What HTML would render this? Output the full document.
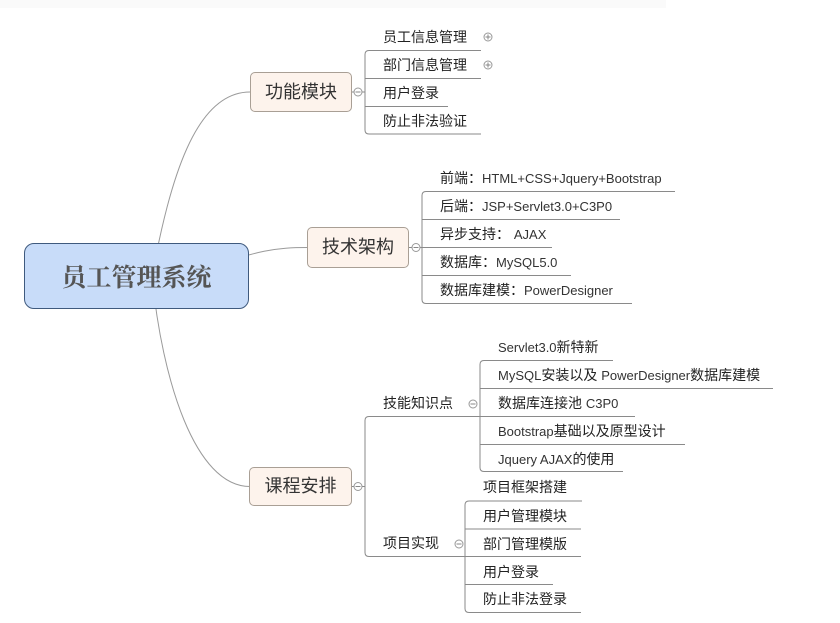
<!DOCTYPE html>
<html>
<head>
<meta charset="utf-8">
<style>
html,body{margin:0;padding:0;background:#fff;}
body{width:840px;height:623px;position:relative;overflow:hidden;font-family:"Liberation Sans","Noto Sans CJK SC",sans-serif;}
.t{position:absolute;white-space:nowrap;font-size:14px;line-height:16px;height:16px;color:#222;font-family:"Liberation Sans","Noto Sans CJK SC",sans-serif;}
.t span{font-size:13px;color:#333;}
.box{position:absolute;box-sizing:border-box;background:#fdf3ec;border:1px solid #a99f95;border-radius:5px;font-size:18px;color:#333;text-align:center;font-family:"Liberation Sans","Noto Sans CJK SC",sans-serif;}
.root{position:absolute;box-sizing:border-box;left:24px;top:243px;width:225px;height:66px;background:#c8dcf9;border:1px solid #3f5a7e;border-radius:10px;text-align:center;line-height:64px;font-size:25px;font-weight:bold;color:#555;font-family:"Noto Serif CJK SC","Liberation Serif",serif;}
svg{position:absolute;left:0;top:0;}
</style>
</head>
<body>
<div style="position:absolute;left:0;top:0;width:666px;height:8px;background:#fafafa;"></div>
<svg width="840" height="623" viewBox="0 0 840 623">
<g fill="none" stroke="#9a9a9a" stroke-width="1">
<!-- curves from root -->
<path d="M152 276 C170 180,195 92,250 92"/>
<path d="M152 276 C162 380,195 486.5,250 486.5"/>
<path d="M200 270 C260 250,275 247.5,308 247.5"/>
</g>
<g fill="none" stroke="#8a8a8a" stroke-width="1">
<!-- 功能模块 -->
<path d="M352 92 H365"/>
<path d="M481 50.5 H369 Q365 50.5 365 54.5 V130 Q365 134 369 134 H481"/>
<path d="M365 78.5 H481"/>
<path d="M365 106.5 H448"/>
<!-- 技术架构 -->
<path d="M409 247.5 H422"/>
<path d="M675 191.5 H426 Q422 191.5 422 195.5 V299.5 Q422 303.5 426 303.5 H632"/>
<path d="M422 219.5 H620"/>
<path d="M422 247.5 H552"/>
<path d="M422 275.5 H571"/>
<!-- 课程安排 -->
<path d="M352 486.5 H365"/>
<path d="M480 416.5 H369 Q365 416.5 365 420.5 V552.5 Q365 556.5 369 556.5 H465"/>
<!-- 技能知识点 -->
<path d="M613 360.5 H484 Q480 360.5 480 364.5 V467.5 Q480 471.5 484 471.5 H623"/>
<path d="M480 388.5 H773"/>
<path d="M480 416.5 H635"/>
<path d="M480 444.5 H685"/>
<!-- 项目实现 -->
<path d="M582 501 H469 Q465 501 465 505 V608.5 Q465 612.5 469 612.5 H581"/>
<path d="M465 529 H581"/>
<path d="M465 556.5 H581"/>
<path d="M465 584.5 H553"/>
</g>
<!-- collapse circles -->
<g fill="#fff" stroke="#999" stroke-width="1">
<circle cx="358" cy="92" r="4"/>
<circle cx="416" cy="247.5" r="4"/>
<circle cx="358" cy="486.5" r="4"/>
<circle cx="473" cy="404" r="4"/>
<circle cx="459" cy="544" r="4"/>
<circle cx="488" cy="37" r="4"/>
<circle cx="488" cy="65" r="4"/>
</g>
<g stroke="#888" stroke-width="1">
<path d="M355.5 92 H360.5"/>
<path d="M413.5 247.5 H418.5"/>
<path d="M355.5 486.5 H360.5"/>
<path d="M470.5 404 H475.5"/>
<path d="M456.5 544 H461.5"/>
<path d="M485.5 37 H490.5 M488 34.5 V39.5"/>
<path d="M485.5 65 H490.5 M488 62.5 V67.5"/>
</g>
</svg>

<div class="root">员工管理系统</div>
<div class="box" style="left:250px;top:72px;width:102px;height:40px;line-height:38px;">功能模块</div>
<div class="box" style="left:307px;top:227px;width:102px;height:41px;line-height:39px;">技术架构</div>
<div class="box" style="left:249px;top:467px;width:103px;height:39px;line-height:37px;">课程安排</div>

<!-- 功能模块 children -->
<div class="t" style="left:383px;top:29px;">员工信息管理</div>
<div class="t" style="left:383px;top:57px;">部门信息管理</div>
<div class="t" style="left:383px;top:85px;">用户登录</div>
<div class="t" style="left:383px;top:113px;">防止非法验证</div>

<!-- 技术架构 children -->
<div class="t" style="left:440px;top:170px;">前端：<span>HTML+CSS+Jquery+Bootstrap</span></div>
<div class="t" style="left:440px;top:198px;">后端：<span>JSP+Servlet3.0+C3P0</span></div>
<div class="t" style="left:440px;top:226px;">异步支持： <span>AJAX</span></div>
<div class="t" style="left:440px;top:254px;">数据库：<span>MySQL5.0</span></div>
<div class="t" style="left:440px;top:282px;">数据库建模：<span>PowerDesigner</span></div>

<!-- 课程安排 children -->
<div class="t" style="left:383px;top:395px;">技能知识点</div>
<div class="t" style="left:383px;top:535px;">项目实现</div>

<div class="t" style="left:498px;top:339px;"><span>Servlet3.0</span>新特新</div>
<div class="t" style="left:498px;top:367px;"><span>MySQL</span>安装以及 <span>PowerDesigner</span>数据库建模</div>
<div class="t" style="left:498px;top:395px;">数据库连接池 <span>C3P0</span></div>
<div class="t" style="left:498px;top:423px;"><span>Bootstrap</span>基础以及原型设计</div>
<div class="t" style="left:498px;top:451px;"><span>Jquery AJAX</span>的使用</div>

<div class="t" style="left:483px;top:479px;">项目框架搭建</div>
<div class="t" style="left:483px;top:508px;">用户管理模块</div>
<div class="t" style="left:483px;top:536px;">部门管理模版</div>
<div class="t" style="left:483px;top:564px;">用户登录</div>
<div class="t" style="left:483px;top:591px;">防止非法登录</div>
</body>
</html>
